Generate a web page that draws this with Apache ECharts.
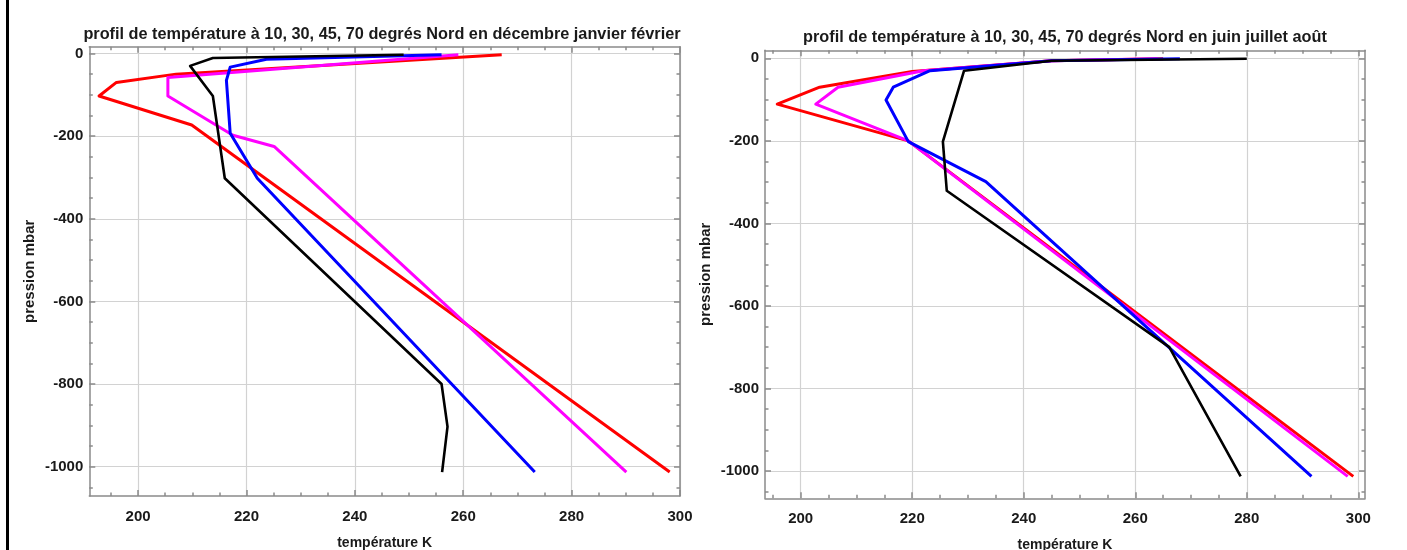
<!DOCTYPE html>
<html><head><meta charset="utf-8">
<script src="https://cdn.jsdelivr.net/npm/echarts@6/dist/echarts.min.js"></script>
<style>html,body{margin:0;padding:0;background:#fff}#c{width:1407px;height:550px}</style>
</head><body><div id="c"></div>
<script>
// ---- data (temperature K, pressure mbar as negative values) ----
const chartTitles = [
  'profil de température à 10, 30, 45, 70 degrés Nord en décembre janvier février',
  'profil de température à 10, 30, 45, 70 degrés Nord en juin juillet août'
];
const xAxisTitle = 'température K';
const yAxisTitle = 'pression mbar';
const xMajorTicks = [200, 220, 240, 260, 280, 300];
const xMinorTicks = [195, 200, 205, 210, 215, 220, 225, 230, 235, 240, 245, 250, 255, 260, 265, 270, 275, 280, 285, 290, 295, 300];
const yMajorTicks = [-1000, -800, -600, -400, -200, 0];
const yMinorTicks = [-1050, -1000, -950, -900, -850, -800, -750, -700, -650, -600, -550, -500, -450, -400, -350, -300, -250, -200, -150, -100, -50, 0];
const seriesNames = ['10° N', '30° N', '45° N', '70° N'];

// December-January-February
const djf10 = [[267.1, -3], [207, -50], [196.0, -70], [192.8, -103], [209.9, -173], [298.1, -1013]];
const djf30 = [[259.1, -3], [205.5, -58], [205.5, -103], [217.5, -198], [225.1, -225], [290.1, -1013]];
const djf45 = [[256.0, -3], [223.7, -14], [217.0, -33], [216.3, -65], [217.0, -193], [222.0, -302], [273.2, -1013]];
const djf70 = [[249.0, -3], [213.8, -11], [209.6, -30], [213.8, -103], [216.0, -302], [256.0, -800], [257.1, -903], [256.1, -1013]];

// June-July-August
const jja10 = [[265.0, -1], [245.0, -6], [220.0, -32], [203.4, -70], [195.8, -111], [219.3, -200], [299.1, -1013]];
const jja30 = [[264.0, -1], [245.0, -6], [222.0, -30], [206.7, -70], [202.7, -111], [219.3, -200], [298.1, -1013]];
const jja45 = [[268.0, -1], [245.0, -6], [223.2, -30], [216.6, -70], [215.3, -101], [219.3, -202], [233.2, -299], [291.6, -1013]];
const jja70 = [[280.0, -1], [245.0, -6], [229.3, -30], [225.5, -202], [226.2, -321], [266.1, -700], [278.9, -1013]];

// ---- styling / layout ----
const FONT = 'Liberation Sans, Arial, sans-serif';
const TXT = '#1a1a1a';
const FRAME = '#8a8a8a';
const GRIDC = '#d2d2d2';
const colors = ['#ff0000', '#ff00ff', '#0000ff', '#000000'];
const widths = [3, 3, 3, 2.6];

const panels = [
  { grid: { left: 89.3, top: 46.7, width: 590.7, height: 449.3 }, xr: [191, 300], yr: [-1071, 16.4],
    data: [djf10, djf30, djf45, djf70], titleX: 377, titleY: 22 },
  { grid: { left: 765, top: 50.3, width: 600, height: 448 }, xr: [193.6, 301.2], yr: [-1066.2, 19.4],
    data: [jja10, jja30, jja45, jja70], titleX: 1060, titleY: 25 }
];

const fmt = v => String(Math.round(v));
const xAxes = [], yAxes = [], series = [], grids = [], titles = [];
const lineSt = { color: FRAME, width: 1.5 };
panels.forEach((p, g) => {
  grids.push(Object.assign({ containLabel: false, outerBoundsMode: 'none' }, p.grid));
  titles.push({ text: chartTitles[g], left: p.titleX, top: p.titleY, textAlign: 'center',
    textStyle: { fontFamily: FONT, fontSize: 16.3, fontWeight: 'bold', color: TXT } });
  const base = { gridIndex: g, type: 'value', min: p.xr[0], max: p.xr[1] };
  const ybase = { gridIndex: g, type: 'value', min: p.yr[0], max: p.yr[1] };
  // x axes
  xAxes.push(Object.assign({}, base, {
    position: 'bottom',
    axisLine: { show: true, onZero: false, lineStyle: lineSt },
    axisTick: { show: true, inside: true, length: 6, customValues: xMajorTicks, lineStyle: lineSt },
    axisLabel: { show: true, customValues: xMajorTicks, formatter: fmt, margin: 13, fontFamily: FONT, fontSize: 15, fontWeight: 'bold', color: TXT },
    splitLine: { show: true, lineStyle: { color: GRIDC, width: 1.2 } },
    name: xAxisTitle, nameLocation: 'middle', nameGap: 40,
    nameTextStyle: { fontFamily: FONT, fontSize: 14, fontWeight: 'bold', color: TXT }
  }));
  xAxes.push(Object.assign({}, base, {
    position: 'bottom', axisLine: { show: false, onZero: false },
    axisTick: { show: true, inside: true, length: 3.5, customValues: xMinorTicks, lineStyle: lineSt },
    axisLabel: { show: false }, splitLine: { show: false }
  }));
  xAxes.push(Object.assign({}, base, {
    position: 'top', axisLine: { show: true, onZero: false, lineStyle: lineSt },
    axisTick: { show: true, inside: true, length: 6, customValues: xMajorTicks, lineStyle: lineSt },
    axisLabel: { show: false }, splitLine: { show: false }
  }));
  xAxes.push(Object.assign({}, base, {
    position: 'top', axisLine: { show: false, onZero: false },
    axisTick: { show: true, inside: true, length: 3.5, customValues: xMinorTicks, lineStyle: lineSt },
    axisLabel: { show: false }, splitLine: { show: false }
  }));
  // y axes
  yAxes.push(Object.assign({}, ybase, {
    position: 'left',
    axisLine: { show: true, onZero: false, lineStyle: lineSt },
    axisTick: { show: true, inside: true, length: 6, customValues: yMajorTicks, lineStyle: lineSt },
    axisLabel: { show: true, customValues: yMajorTicks, formatter: fmt, margin: 6, fontFamily: FONT, fontSize: 15, fontWeight: 'bold', color: TXT },
    splitLine: { show: true, lineStyle: { color: GRIDC, width: 1.2 } },
    name: yAxisTitle, nameLocation: 'middle', nameGap: 52,
    nameTextStyle: { fontFamily: FONT, fontSize: 15, fontWeight: 'bold', color: TXT }
  }));
  yAxes.push(Object.assign({}, ybase, {
    position: 'left', axisLine: { show: false, onZero: false },
    axisTick: { show: true, inside: true, length: 3.5, customValues: yMinorTicks, lineStyle: lineSt },
    axisLabel: { show: false }, splitLine: { show: false }
  }));
  yAxes.push(Object.assign({}, ybase, {
    position: 'right', axisLine: { show: true, onZero: false, lineStyle: lineSt },
    axisTick: { show: true, inside: true, length: 6, customValues: yMajorTicks, lineStyle: lineSt },
    axisLabel: { show: false }, splitLine: { show: false }
  }));
  yAxes.push(Object.assign({}, ybase, {
    position: 'right', axisLine: { show: false, onZero: false },
    axisTick: { show: true, inside: true, length: 3.5, customValues: yMinorTicks, lineStyle: lineSt },
    axisLabel: { show: false }, splitLine: { show: false }
  }));
  p.data.forEach((d, i) => {
    series.push({
      name: seriesNames[i], type: 'line', xAxisIndex: 4 * g, yAxisIndex: 4 * g,
      data: d, showSymbol: false, symbol: 'none', smooth: false,
      lineStyle: { color: colors[i], width: widths[i], join: 'round', cap: 'butt' },
      itemStyle: { color: colors[i] }, z: 3 + i
    });
  });
});

const chart = echarts.init(document.getElementById('c'), null, { renderer: 'canvas' });
chart.setOption({
  animation: false,
  backgroundColor: '#ffffff',
  title: titles,
  grid: grids,
  xAxis: xAxes,
  yAxis: yAxes,
  series: series,
  graphic: [{ type: 'rect', left: 6, top: 0, shape: { width: 3, height: 550 }, style: { fill: '#000' }, silent: true }]
});
</script></body></html>
